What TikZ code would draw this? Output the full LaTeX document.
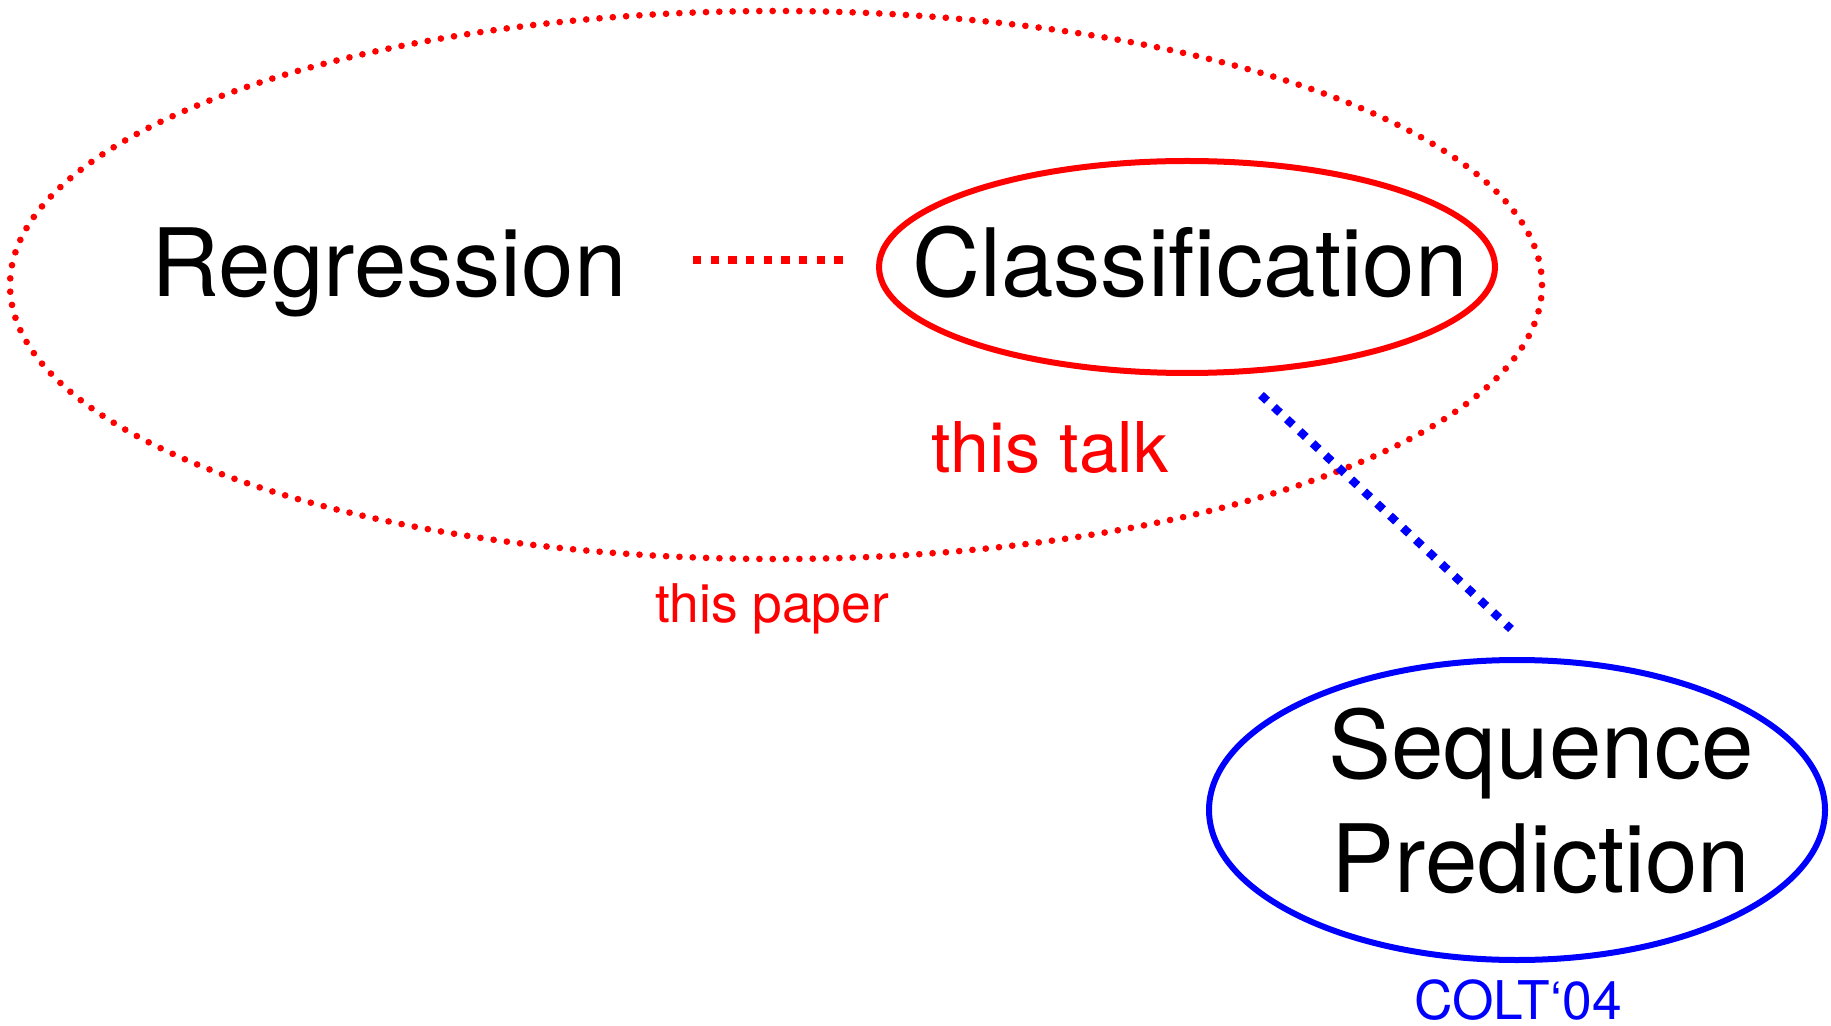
\documentclass[tikz,border=0pt]{standalone}
\usepackage{fontspec}
\setmainfont{TeX Gyre Heros}
\usepackage{tikz}
\usetikzlibrary{shapes}

\begin{document}
\begin{tikzpicture}[x=0.3pt, y=-0.3pt,
	oval/.style = {draw, ellipse, line width=1.8pt, inner sep=0pt},
	bigword/.style = {inner sep=0pt, anchor=base, font=\fontsize{28.3}{34.2}\selectfont},
	smallword/.style = {inner sep=0pt, anchor=base, font=\fontsize{16}{19}\selectfont},
	squaredots/.style = {line width=2.5pt, dash pattern=on 2.5pt off 2.8pt}]
	\useasboundingbox (0,0) rectangle (1831,1026);
	\node [draw=red, ellipse, line width=2pt, line cap=round, dash pattern=on 0pt off 4pt, inner sep=0pt, minimum width=459.6pt, minimum height=164.4pt] (Paper) at (776,285) {};
	\node [oval, draw=red, minimum width=184.8pt, minimum height=63.6pt] (ClassOval) at (1187,267) {};
	\node [oval, draw=blue, minimum width=184.8pt, minimum height=90pt] (SeqOval) at (1517,810) {};
	\node [bigword] (Regression) at (389,297) {Regression};
	\node [bigword] (Classification) at (1190,297) {Classification};
	\node [bigword, align=center] (Sequence) at (1541,892) {Sequence\\Prediction};
	\node [red, inner sep=0pt, anchor=base, font=\fontsize{21}{25}\selectfont] (Talk) at (1050,473) {this talk};
	\node [smallword, red] (PaperLabel) at (772,622) {this paper};
	\node [smallword, blue] (Colt) at (1518,1019) {COLT‘04};
	\coordinate (RegEnd) at (693,260);
	\coordinate (ClassEnd) at (843,260);
	\coordinate (TalkEnd) at (1261,395);
	\coordinate (SeqEnd) at (1511,629);
	\draw [red, squaredots] (RegEnd) -- (ClassEnd);
	\draw [blue, squaredots] (TalkEnd) -- (SeqEnd);
\end{tikzpicture}
\end{document}
